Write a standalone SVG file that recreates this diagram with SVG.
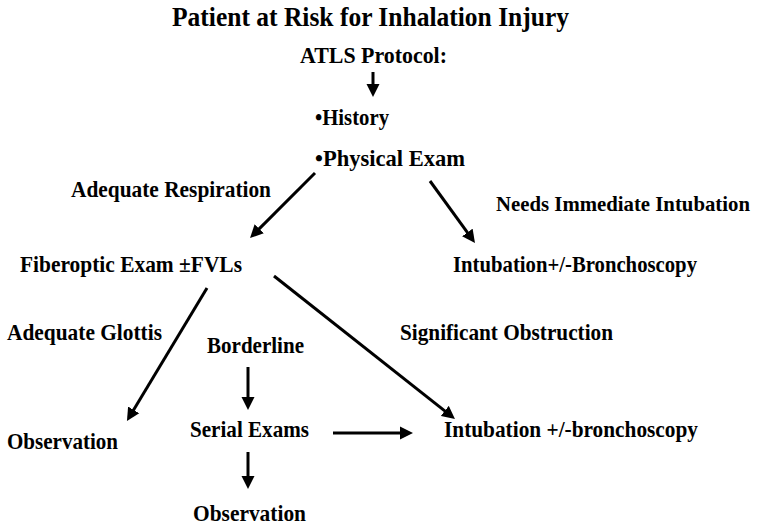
<svg xmlns="http://www.w3.org/2000/svg" width="759" height="526" viewBox="0 0 759 526">
<style>
text{font-family:"Liberation Serif","Times New Roman",serif;font-weight:bold;font-size:22.5px;fill:#000;}
.title{font-size:27px;}
.c line{stroke:#000;stroke-width:3;marker-end:url(#ah);}
</style>
<defs>
<marker id="ah" markerUnits="userSpaceOnUse" viewBox="0 -7 14 14" refX="4" refY="0" markerWidth="14" markerHeight="14" orient="auto">
<path d="M0,-6.5 L13,0 L0,6.5 z" fill="#000"/>
</marker>
</defs>
<rect width="759" height="526" fill="#fff"/>
<g id="title"><text class="title" x="172" y="26" textLength="397" lengthAdjust="spacingAndGlyphs">Patient at Risk for Inhalation Injury</text></g>
<g id="atls"><text x="300" y="63" textLength="147" lengthAdjust="spacingAndGlyphs">ATLS Protocol:</text></g>
<g id="history"><text x="315" y="125" textLength="74" lengthAdjust="spacingAndGlyphs">•History</text>
<text x="315" y="166" textLength="150" lengthAdjust="spacingAndGlyphs">•Physical Exam</text></g>
<g id="lbl-resp"><text x="71" y="197" textLength="200" lengthAdjust="spacingAndGlyphs">Adequate Respiration</text></g>
<g id="lbl-needs"><text x="496" y="211" style="font-size:21px" textLength="254" lengthAdjust="spacingAndGlyphs">Needs Immediate Intubation</text></g>
<g id="fiberoptic"><text x="20" y="272" textLength="222" lengthAdjust="spacingAndGlyphs">Fiberoptic Exam ±FVLs</text></g>
<g id="intub1"><text x="453" y="272" textLength="244" lengthAdjust="spacingAndGlyphs">Intubation+/-Bronchoscopy</text></g>
<g id="lbl-glottis"><text x="7" y="340" textLength="155" lengthAdjust="spacingAndGlyphs">Adequate Glottis</text></g>
<g id="lbl-borderline"><text x="207" y="353" textLength="97" lengthAdjust="spacingAndGlyphs">Borderline</text></g>
<g id="lbl-obstruction"><text x="400" y="340" textLength="213" lengthAdjust="spacingAndGlyphs">Significant Obstruction</text></g>
<g id="obs1"><text x="7" y="449" textLength="111" lengthAdjust="spacingAndGlyphs">Observation</text></g>
<g id="serial"><text x="190" y="437" textLength="119" lengthAdjust="spacingAndGlyphs">Serial Exams</text></g>
<g id="intub2"><text x="444" y="437" textLength="254" lengthAdjust="spacingAndGlyphs">Intubation +/-bronchoscopy</text></g>
<g id="obs2"><text x="193" y="521" textLength="113" lengthAdjust="spacingAndGlyphs">Observation</text></g>
<g id="connectors" class="c">
<line x1="373" y1="72" x2="373" y2="88"/>
<line x1="315" y1="173" x2="256.4" y2="231.6"/>
<line x1="430" y1="181" x2="469.7" y2="235.7"/>
<line x1="207" y1="288" x2="131.6" y2="413.3"/>
<line x1="274" y1="276" x2="447.9" y2="413.4"/>
<line x1="248" y1="367" x2="248" y2="401"/>
<line x1="333" y1="433" x2="404" y2="433"/>
<line x1="248" y1="452" x2="248" y2="480"/>
</g>
</svg>
